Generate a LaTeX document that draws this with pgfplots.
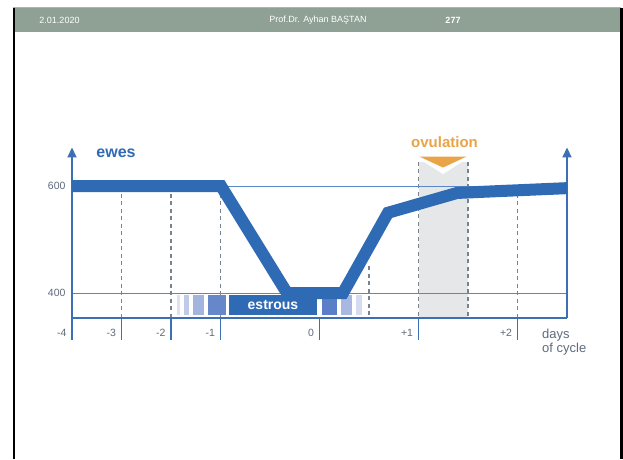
\documentclass[border=0pt]{standalone}
\usepackage{pgfplots}
\pgfplotsset{compat=1.18}
\usepackage{fontspec}
\setmainfont{Liberation Sans}
\usetikzlibrary{arrows.meta}
\definecolor{hdr}{HTML}{8FA195}
\definecolor{cblue}{HTML}{2F6BB5}
\definecolor{ablue}{HTML}{3C6FB6}
\definecolor{gblue}{HTML}{5A86C4}
\definecolor{lbl}{HTML}{5F6B7D}
\definecolor{dgray}{HTML}{7A838D}
\definecolor{ovgray}{HTML}{E6E7E8}
\definecolor{orng}{HTML}{E9A448}
\definecolor{sA}{HTML}{DCE2F2}
\definecolor{sB}{HTML}{C0CBE8}
\definecolor{sC}{HTML}{A3B4DF}
\definecolor{sD}{HTML}{6688CB}
\definecolor{sE}{HTML}{5A7EC7}
\definecolor{sF}{HTML}{A8B8E0}
\definecolor{sG}{HTML}{D5DCF0}
\begin{document}
\begin{tikzpicture}[x=1pt,y=1pt]
\path[use as bounding box] (0,0) rectangle (623,459);
\fill[white] (0,0) rectangle (623,459);
\fill[hdr] (15,426.7) rectangle (619.5,450.7);
\draw[black!30, line width=1pt] (12.5,451.5) -- (621,451.5);
\fill[black] (12.5,0) rectangle (15,451);
\fill[black] (619.5,0) rectangle (623,451);
\node[text=white, font=\fontsize{9}{10}\selectfont] at (59.5,439) {2.01.2020};
\node[text=white, font=\fontsize{9}{10}\selectfont] at (318,439) {Prof.Dr. Ayhan BAŞTAN};
\node[text=white, font=\bfseries\fontsize{9}{10}\selectfont] at (453,439) {277};
\begin{axis}[
  at={(72pt,141pt)}, anchor=south west,
  scale only axis, width=495pt, height=168pt,
  xmin=0, xmax=10, ymin=353.3, ymax=667.3,
  clip=false,
  axis line style={draw=none},
  xtick={0,1,2,3,5,7,9},
  xticklabels={-4,-3,-2,-1,0,+1,+2},
  xtick pos=bottom, ytick pos=left,
  tick align=outside,
  major tick length=22pt,
  xtick style={ablue, line width=1.2pt},
  ytick={400,600},
  ytick style={draw=none},
  ticklabel style={font=\fontsize{10.5}{12}\selectfont, text=lbl},
  xticklabel style={anchor=east, xshift=-2pt, yshift=7pt},
  yticklabel style={xshift=19pt},
  /pgf/number format/assume math mode=true,
]
% ovulation band
\addplot[fill=ovgray, draw=none] coordinates {(7,353.3) (8,353.3) (8,645) (7,645)} --cycle;
\addplot[fill=white, draw=none] coordinates {(7.05,648.6) (7.94,648.6) (7.495,622.4)} --cycle;
\addplot[fill=orng, draw=none] coordinates {(7.02,655) (7.97,655) (7.495,634.5)} --cycle;
% dashed lines
\addplot[dgray, line width=1.6pt, dash pattern=on 4pt off 3.5pt] coordinates {(1,600) (1,353.3)};
\addplot[dgray, line width=1.6pt, dash pattern=on 4pt off 3.5pt] coordinates {(2,600) (2,353.3)};
\addplot[dgray, line width=1.6pt, dash pattern=on 4pt off 3.5pt] coordinates {(3,600) (3,353.3)};
\addplot[dgray, line width=1.6pt, dash pattern=on 4pt off 3.5pt] coordinates {(6,450) (6,353.3)};
\addplot[dgray, line width=1.6pt, dash pattern=on 4pt off 3.5pt] coordinates {(7,645) (7,353.3)};
\addplot[dgray, line width=1.6pt, dash pattern=on 4pt off 3.5pt] coordinates {(8,645) (8,353.3)};
\addplot[dgray, line width=1.6pt, dash pattern=on 4pt off 3.5pt] coordinates {(9,600) (9,353.3)};
% grid lines
\addplot[gblue, line width=0.9pt] coordinates {(0,600) (10,600)};
\addplot[gblue, line width=0.9pt] coordinates {(0,400) (10,400)};
% estrous bar
\addplot[fill=sA, draw=none] coordinates {(2.121,359) (2.182,359) (2.182,396) (2.121,396)} --cycle;
\addplot[fill=sB, draw=none] coordinates {(2.263,359) (2.364,359) (2.364,396) (2.263,396)} --cycle;
\addplot[fill=sC, draw=none] coordinates {(2.444,359) (2.667,359) (2.667,396) (2.444,396)} --cycle;
\addplot[fill=sD, draw=none] coordinates {(2.747,359) (3.111,359) (3.111,396) (2.747,396)} --cycle;
\addplot[fill=cblue, draw=none] coordinates {(3.172,359) (4.949,359) (4.949,396) (3.172,396)} --cycle;
\addplot[fill=sE, draw=none] coordinates {(5.051,359) (5.354,359) (5.354,396) (5.051,396)} --cycle;
\addplot[fill=sF, draw=none] coordinates {(5.434,359) (5.657,359) (5.657,396) (5.434,396)} --cycle;
\addplot[fill=sG, draw=none] coordinates {(5.737,359) (5.859,359) (5.859,396) (5.737,396)} --cycle;
% axes
\addplot[ablue, line width=2pt] coordinates {(0,353.3) (10,353.3)};
\addplot[ablue, line width=2pt, -{Triangle[width=9pt,length=10pt]}] coordinates {(0,353.3) (0,672)};
\addplot[ablue, line width=2pt, -{Triangle[width=9pt,length=10pt]}] coordinates {(10,353.3) (10,672)};
% curve
\addplot[cblue, line width=12pt] coordinates {(0,600) (3.01,600) (4.343,400) (5.475,400) (6.384,550) (7.778,587) (8.5,590) (10,596)};
% texts
\node[text=white, font=\bfseries\fontsize{14}{14}\selectfont] at (axis cs:4.06,377.6) {estrous};
\node[text=cblue, font=\bfseries\fontsize{16}{16}\selectfont] at (axis cs:0.889,661.7) {ewes};
\node[text=orng, font=\bfseries\fontsize{15}{15}\selectfont] at (axis cs:7.525,681.3) {ovulation};
\node[text=lbl, font=\fontsize{13}{14}\selectfont, align=left, anchor=west, inner sep=0pt] at (axis cs:9.495,308.4) {days\\of cycle};
\end{axis}
\end{tikzpicture}
\end{document}
